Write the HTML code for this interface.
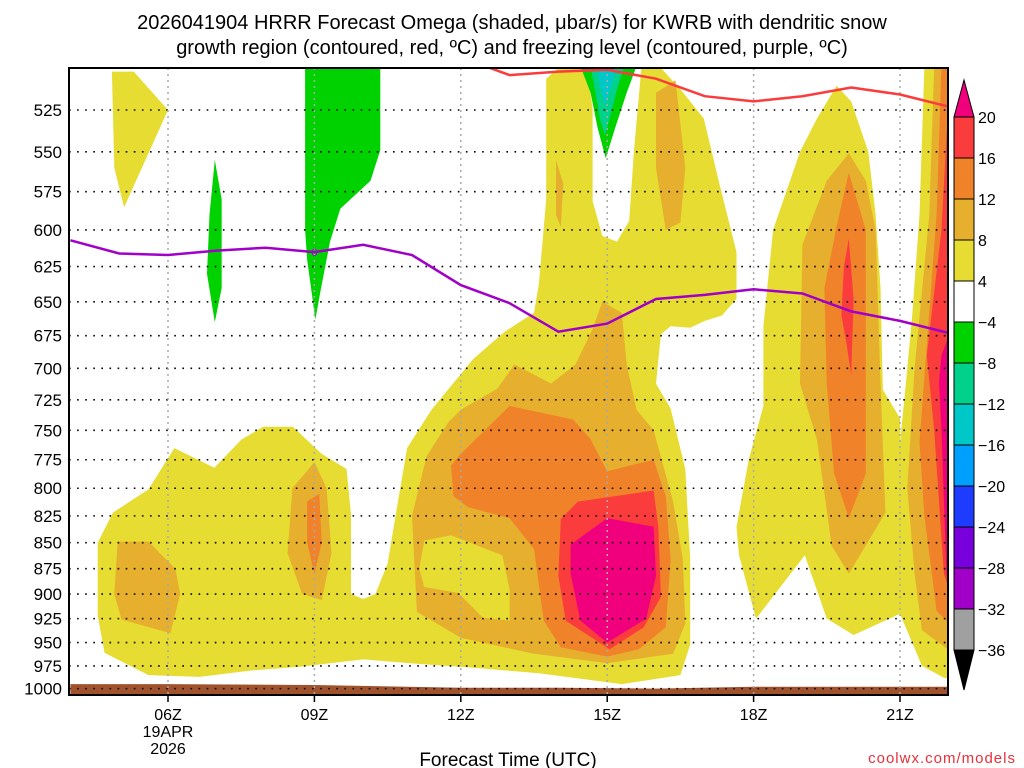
<!DOCTYPE html>
<html><head><meta charset="utf-8"><style>
html,body{margin:0;padding:0;background:#fff;}
svg{display:block;font-family:"Liberation Sans","DejaVu Sans",sans-serif;}
</style></head><body>
<svg id="c" width="1024" height="768" viewBox="0 0 1024 768" xmlns="http://www.w3.org/2000/svg">
<defs><clipPath id="pc"><rect x="69" y="68" width="879" height="627"/></clipPath></defs>
<text x="512" y="29" text-anchor="middle" font-size="20" fill="#000">2026041904 HRRR Forecast Omega (shaded, μbar/s) for KWRB with dendritic snow</text>
<text x="512" y="54" text-anchor="middle" font-size="20" fill="#000">growth region (contoured, red, ºC) and freezing level (contoured, purple, ºC)</text>
<g id="fills" clip-path="url(#pc)"></g>
<g id="grid" clip-path="url(#pc)"></g>
<g id="lines" clip-path="url(#pc)"></g>
<g id="axes"></g>
<g id="cbar"></g>
<text x="508" y="766" text-anchor="middle" font-size="19" fill="#000">Forecast Time (UTC)</text>
<text x="1016" y="763" text-anchor="end" font-size="15" fill="#e8303a" letter-spacing="1">coolwx.com/models</text>
</svg>
<script>
const pressureTicks=[525,550,575,600,625,650,675,700,725,750,775,800,825,850,875,900,925,950,975,1000];
const hourTicks=[6,9,12,15,18,21];
const hourLabels=["06Z","09Z","12Z","15Z","18Z","21Z"];
const freezeHours=[4,5,6,7,8,9,10,11,12,13,14,15,16,17,18,19,20,21,22];
const freezeP=[607,616,617,614,612,615,610,617,638,651,672,666,648,645,641,644,657,664,673];
const dgzHours=[12.5,13,14,15,16,17,18,19,20,21,22];
const dgzP=[500,505,503,502,507,517,520,517,512,516,523];
const groundHours=[4,6,9,12,14,16,18,20,21,22];
const groundP=[995,995,996,999,999,1000,998,998,998,998];
const cbarLevels=["20","16","12","8","4","−4","−8","−12","−16","−20","−24","−28","−32","−36"];
const cbarColors=["#fa3c3c","#f0822a","#e6af2d","#e6dc32","#ffffff","#00d200","#00d28c","#00c8c8","#00a0ff","#1e3cff","#7800dc","#a000c8","#a0a0a0"];
const yellow1=[[4.85,503],[5.3,503],[6,525],[5.1,585],[4.9,560]];
const yellowMain=[[4.56,900],[4.56,850],[4.87,822],[5.6,801],[6.13,765],[6.95,782],[7.5,758],[7.95,747],[8.56,747],[9.15,770],[9.66,783],[9.75,824],[9.75,900],[10,905],[10.25,900],[10.5,870],[10.7,815],[10.9,765],[11.4,733],[12.25,693],[12.65,680],[12.9,672],[13.5,658],[13.6,637],[13.75,580],[13.75,507],[14,501],[14.6,501],[14.7,525],[14.7,581],[14.9,604],[15.2,608],[15.45,594],[15.55,549],[15.7,501],[16.1,501],[16.5,513],[16.98,530],[17.3,570],[17.65,615],[17.65,648],[17.35,660],[17,664],[16.7,669],[16.3,668],[16.1,674],[16,712],[16.3,732],[16.6,783],[16.7,865],[16.7,952],[16.5,985],[15.3,995],[13.6,983],[12,976],[11.2,973],[10,968],[8.7,976],[7.7,980],[6.65,987],[5.6,985],[4.7,961],[4.56,922]];
const yellowRight=[[19.7,511],[20,520],[20.35,550],[20.5,590],[20.6,640],[20.65,717],[21,740],[21,875],[21,920],[20.05,942],[19.5,925],[19.05,862],[18.05,925],[17.7,862],[17.65,835],[17.9,775],[18.2,730],[18.2,668],[18.4,600],[18.95,550],[19.3,530]];
const yellowStrip=[[21.5,500],[22.1,500],[22.1,990],[21.9,988],[21.45,975],[21.0,920],[21.0,760],[21.1,720],[21.25,660],[21.4,590]];
const goldStrip=[[21.7,500],[22.1,500],[22.1,962],[21.45,937],[21.3,880],[21.15,800],[21.3,700],[21.6,590]];
const orangeStrip=[[21.85,500],[22.1,500],[22.1,935],[21.75,917],[21.5,825],[21.4,760],[21.75,590]];
const redStrip=[[22.0,515],[22.1,515],[22.1,910],[21.9,880],[21.7,750],[21.55,690],[21.85,600]];
const magentaStrip=[[22.0,675],[22.1,675],[22.1,905],[21.95,880],[21.85,750],[21.8,710],[21.85,690]];
const goldRight=[[19.95,551],[20.3,568],[20.5,600],[20.6,712],[20.7,822],[19.95,880],[19.6,853],[19.3,758],[18.95,712],[19.0,610],[19.5,568]];
const orangeRight=[[19.95,563],[20.3,600],[20.3,712],[20.3,787],[19.95,827],[19.65,787],[19.5,712],[19.45,640],[19.7,598]];
const redRight=[[19.95,606],[20.05,648],[20.0,705],[19.9,680],[19.8,660],[19.85,625]];
const gold1=[[4.97,849],[5.6,849],[6.15,875],[6.25,900],[6.05,940],[5.05,926],[4.9,900]];
const gold2=[[8.55,800],[9,777],[9.25,800],[9.35,860],[9.15,906],[8.75,900],[8.45,860]];
const goldMain=[[11.3,772],[11.75,743],[12.0,733],[12.75,716],[13.1,697],[13.85,712],[14.35,697],[14.7,670],[14.9,650],[15.3,658],[15.4,697],[15.6,733],[15.95,750],[16.35,812],[16.55,866],[16.6,930],[16.35,962],[15.0,972],[13.5,962],[12.0,945],[11.1,918],[11.0,825]];
const goldTop1=[[16,515],[16.4,508],[16.6,560],[16.5,595],[16.2,600],[16.0,560]];
const goldTop2=[[13.95,555],[14.1,570],[14.05,598],[13.95,590]];
const yellowHole=[[11.25,848],[11.8,843],[12.85,862],[13.0,895],[13.0,927],[12.45,924],[11.95,899],[11.25,893],[11.15,875]];
const orange1=[[8.85,812],[9.1,805],[9.15,850],[9.0,880],[8.85,850]];
const orangeMain=[[11.8,780],[12.0,770],[13.0,730],[14.3,741],[14.65,757],[15.0,785],[15.95,775],[16.2,807],[16.3,866],[16.2,934],[15.65,957],[15.0,965],[14.05,955],[13.7,927],[13.5,856],[13.0,827],[12.15,817],[11.85,807]];
const redMain=[[14.05,828],[14.4,812],[15.95,802],[16.05,836],[16.1,903],[15.75,934],[15.05,957],[14.15,927],[14.0,882]];
const magentaMain=[[14.25,852],[15.0,827],[15.95,835],[16.0,882],[15.8,925],[15.0,950],[14.45,927],[14.25,880]];
const green1=[[6.96,555],[7.1,580],[7.1,640],[6.96,665],[6.8,630],[6.85,590]];
const green2=[[8.81,500],[10.35,500],[10.35,549],[10.15,568],[9.53,586],[9.32,608],[9.12,643],[9.02,663],[8.85,620],[8.81,600]];
const green3=[[14.45,500],[15.6,500],[15.4,515],[15.17,535],[14.97,554],[14.8,535],[14.66,515]];
const teal3=[[14.66,500],[15.35,500],[15.2,513],[15.05,530],[14.95,540],[14.85,530],[14.75,513]];
const cyan3=[[14.8,500],[15.2,500],[15.08,512],[14.95,522],[14.85,510]];

const NS="http://www.w3.org/2000/svg";
const X=h=>168+(h-6)*48.8;
const Y=p=>110+Math.log(p/525)*898;
function mk(tag,attrs,parent){const e=document.createElementNS(NS,tag);for(const k in attrs)e.setAttribute(k,attrs[k]);parent.appendChild(e);return e;}
const fills=document.getElementById('fills');
function poly(pts,color,name){
  const e=mk('polygon',{points:pts.map(q=>X(q[0]).toFixed(1)+','+Y(q[1]).toFixed(1)).join(' '),fill:color},fills);
  
  
}
const YEL="#e6dc32",GLD="#e6af2d",ORG="#f0822a",RED="#fa3c3c",MAG="#f0007d";
poly(yellow1,YEL,'omega-4-region');
poly(yellowMain,YEL,'omega-4-region');
poly(yellowRight,YEL,'omega-4-region');
poly(yellowStrip,YEL,'omega-4-region');
poly(goldStrip,GLD,'omega-8-region');
poly(orangeStrip,ORG,'omega-12-region');
poly(redStrip,RED,'omega-16-region');
poly(magentaStrip,MAG,'omega-20-region');
poly(goldRight,GLD,'omega-8-region');
poly(orangeRight,ORG,'omega-12-region');
poly(redRight,RED,'omega-16-region');
poly(gold1,GLD,'omega-8-region');
poly(gold2,GLD,'omega-8-region');
poly(goldMain,GLD,'omega-8-region');
poly(goldTop1,GLD,'omega-8-region');
poly(goldTop2,GLD,'omega-8-region');
poly(yellowHole,YEL,'omega-4-region');
poly(orange1,ORG,'omega-12-region');
poly(orangeMain,ORG,'omega-12-region');
poly(redMain,RED,'omega-16-region');
poly(magentaMain,MAG,'omega-20-region');
poly(green1,"#00d200",'omega-neg4-region');
poly(green2,"#00d200",'omega-neg4-region');
poly(green3,"#00d200",'omega-neg4-region');
poly(teal3,"#00d28c",'omega-neg8-region');
poly(cyan3,"#00c8c8",'omega-neg12-region');

const gpts=groundHours.map((h,i)=>X(h).toFixed(1)+','+Y(groundP[i]).toFixed(1));
gpts.push(X(22)+',700',X(4)+',700');
const gr=mk('polygon',{points:gpts.join(' '),fill:"#a0522d"},fills);



const grid=document.getElementById('grid');
pressureTicks.forEach(p=>{
  const l=mk('line',{x1:69,x2:948,y1:Y(p),y2:Y(p),stroke:"#000","stroke-width":1.6,"stroke-dasharray":"1.6 6.5"},grid);
  
  
});
hourTicks.forEach(h=>{
  const l=mk('line',{x1:X(h),x2:X(h),y1:68,y2:695,stroke:"#aaa","stroke-width":1.5,"stroke-dasharray":"2 4"},grid);
  
  
});

const lines=document.getElementById('lines');
const fl=mk('polyline',{points:freezeHours.map((h,i)=>X(h).toFixed(1)+','+Y(freezeP[i]).toFixed(1)).join(' '),fill:"none",stroke:"#a000c8","stroke-width":2.5},lines);


const fll=mk('text',{x:X(9),y:Y(615)+4,"text-anchor":"middle","font-size":11,fill:"#a000c8"},lines);
fll.textContent="0";


const dl=mk('polyline',{points:dgzHours.map((h,i)=>X(h).toFixed(1)+','+Y(dgzP[i]).toFixed(1)).join(' '),fill:"none",stroke:"#fa3c3c","stroke-width":2.5},lines);



const axes=document.getElementById('axes');
const fr=mk('rect',{x:69,y:68,width:879,height:627,fill:"none",stroke:"#000","stroke-width":2},axes);


pressureTicks.forEach(p=>{
  const t=mk('text',{x:62,y:Y(p)+6,"text-anchor":"end","font-size":17,fill:"#000"},axes);
  t.textContent=p;
  
  
});
hourTicks.forEach((h,i)=>{
  const tk=mk('line',{x1:X(h),x2:X(h),y1:695,y2:702,stroke:"#000","stroke-width":1.5},axes);
  
  
  const t=mk('text',{x:X(h),y:720,"text-anchor":"middle","font-size":16,fill:"#000"},axes);
  t.textContent=hourLabels[i];
  
  
});
const d1=mk('text',{x:X(6),y:737,"text-anchor":"middle","font-size":16,fill:"#000"},axes);
d1.textContent="19APR";


const d2=mk('text',{x:X(6),y:754,"text-anchor":"middle","font-size":16,fill:"#000"},axes);
d2.textContent="2026";



const cb=document.getElementById('cbar');
const cx=954,cw=20,cbTop=117,seg=41;
const tu=mk('polygon',{points:`${cx},${cbTop} ${cx+cw},${cbTop} ${cx+cw/2},${cbTop-37}`,fill:MAG,stroke:"#000","stroke-width":1},cb);


cbarColors.forEach((c,i)=>{
  const r=mk('rect',{x:cx,y:cbTop+i*seg,width:cw,height:seg,fill:c,stroke:"#000","stroke-width":1},cb);
  
  
});
const cbBot=cbTop+cbarColors.length*seg;
const td=mk('polygon',{points:`${cx},${cbBot} ${cx+cw},${cbBot} ${cx+cw/2},${cbBot+40}`,fill:"#000",stroke:"#000","stroke-width":1},cb);


cbarLevels.forEach((s,i)=>{
  const t=mk('text',{x:978,y:cbTop+i*seg+6,"font-size":16,fill:"#000"},cb);
  t.textContent=s;
  
  
});
</script>
</body></html>
